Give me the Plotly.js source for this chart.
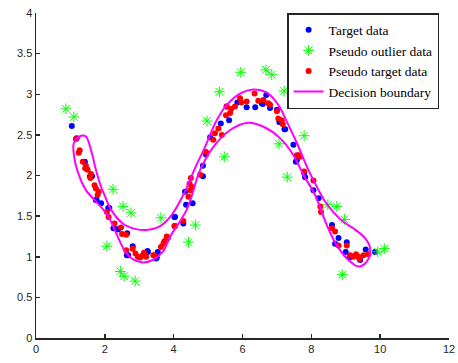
<!DOCTYPE html>
<html>
<head>
<meta charset="utf-8">
<script src="https://cdn.plot.ly/plotly-3.0.1.min.js"></script>
<style>
  html, body { margin: 0; padding: 0; background: #fff; }
  #chart { width: 458px; height: 363px; }
</style>
</head>
<body>
<div id="chart"></div>
<script>
// Target data (blue dots)
const targetX = [1.04, 1.18, 1.42, 1.57, 1.63, 1.74, 1.76, 1.89, 2.10, 2.13, 2.25, 2.37, 2.39, 2.65, 2.64, 2.68, 2.81,
  3.24, 3.25, 3.49, 3.51, 3.54, 3.83, 4.02, 4.04, 4.28, 4.36, 4.33, 4.55, 4.85, 4.85, 4.94, 5.06, 5.37, 5.54, 5.61,
  5.85, 6.12, 6.37, 6.56, 6.59, 6.69, 6.80, 7.00, 7.07, 7.09, 7.22, 7.24, 7.48, 7.55, 7.58, 7.79, 7.82, 8.06, 8.21,
  8.60, 8.79, 8.69, 9.03, 9.00, 9.11, 9.42, 9.58, 9.85];
const targetY = [2.61, 2.46, 2.17, 1.99, 1.99, 1.70, 1.70, 1.66, 1.60, 1.60, 1.35, 1.34, 1.34, 1.29, 1.02, 1.02, 1.13,
  1.07, 1.06, 0.98, 0.99, 1.06, 1.23, 1.49, 1.49, 1.41, 1.64, 1.80, 1.66, 1.99, 2.12, 2.26, 2.47, 2.64, 2.85, 2.68,
  2.90, 2.84, 2.84, 2.89, 2.88, 2.99, 2.83, 2.81, 2.66, 2.66, 2.57, 2.57, 2.38, 2.17, 2.19, 2.03, 1.98, 1.82, 1.72,
  1.39, 1.23, 1.16, 1.18, 1.06, 0.99, 0.96, 1.09, 1.06];

// Pseudo outlier data (green asterisks)
const outlierX = [0.87, 1.10, 2.24, 2.53, 2.76, 3.63, 4.63, 4.43, 2.06, 2.45, 2.56, 2.88, 5.33, 7.21, 4.97, 7.79,
  7.06, 5.47, 7.30, 8.48, 8.74, 8.96, 9.93, 10.12, 8.90, 5.95, 6.68, 6.85];
const outlierY = [2.82, 2.72, 1.83, 1.62, 1.54, 1.48, 1.39, 1.18, 1.13, 0.82, 0.76, 0.70, 3.03, 3.04, 2.67, 2.49,
  2.39, 2.23, 1.98, 1.64, 1.62, 1.46, 1.06, 1.10, 0.78, 3.27, 3.30, 3.24];

// Pseudo target data (red dots)
const pseudoX = [1.16, 1.24, 1.27, 1.36, 1.43, 1.50, 1.45, 1.58, 1.60, 1.70, 1.74, 1.79, 1.82, 2.06, 2.11, 2.28,
  2.47, 2.50, 2.62, 2.62, 2.81, 2.89, 2.96, 3.03, 3.10, 3.20, 3.14, 3.44, 3.41, 3.63, 3.70, 3.73, 3.78, 3.80,
  4.02, 4.04, 4.28, 4.43, 4.48, 4.53, 4.50, 4.46, 4.77, 4.94, 5.15, 5.20, 5.30, 5.40, 5.52, 5.64, 5.54, 5.67,
  5.78, 5.93, 5.97, 6.12, 6.35, 6.46, 6.61, 6.75, 6.80, 7.00, 7.04, 7.14, 7.17, 7.58, 7.63, 7.67, 7.79, 8.06,
  8.26, 8.28, 8.60, 8.69, 8.79, 9.03, 9.13, 9.22, 9.30, 9.37, 9.40, 9.52, 9.66];
const pseudoY = [2.45, 2.28, 2.31, 2.17, 2.09, 2.07, 2.12, 1.97, 2.02, 1.88, 1.84, 1.76, 1.80, 1.55, 1.49, 1.41,
  1.36, 1.28, 1.27, 1.08, 1.10, 1.04, 1.00, 0.99, 1.02, 1.00, 1.05, 1.02, 1.02, 1.12, 1.16, 1.19, 1.21, 1.25,
  1.38, 1.38, 1.44, 1.74, 1.82, 1.86, 1.97, 1.90, 2.01, 2.29, 2.44, 2.52, 2.58, 2.50, 2.74, 2.77, 2.85, 2.82,
  2.85, 2.95, 2.90, 2.91, 3.01, 2.92, 2.93, 2.89, 2.87, 2.79, 2.70, 2.68, 2.63, 2.25, 2.25, 2.23, 2.05, 1.94,
  1.62, 1.55, 1.35, 1.31, 1.14, 1.14, 1.02, 1.00, 1.03, 1.00, 0.97, 1.02, 1.03];

// Decision boundary (closed contour)
const boundaryX = [1.31, 1.45, 1.60, 1.74, 1.89, 1.99, 2.18, 2.52, 2.91, 3.20, 3.58, 3.90, 4.28, 4.62, 4.91, 5.25,
  5.59, 5.98, 6.32, 6.71, 7.04, 7.29, 7.58, 7.87, 8.21, 8.40, 8.64, 8.93, 9.22, 9.56, 9.71, 9.61, 9.37, 9.13,
  8.74, 8.45, 8.11, 7.78, 7.48, 7.09, 6.61, 6.17, 5.64, 5.15, 4.77, 4.38, 3.90, 3.68, 3.39, 3.10, 2.81, 2.57,
  2.33, 2.08, 1.79, 1.45, 1.21, 1.11, 1.10, 1.31];
const boundaryY = [2.49, 2.48, 2.31, 2.07, 1.86, 1.76, 1.58, 1.41, 1.34, 1.33, 1.37, 1.49, 1.76, 2.09, 2.35, 2.68,
  2.89, 3.02, 3.06, 3.02, 2.87, 2.66, 2.40, 2.11, 1.82, 1.68, 1.55, 1.43, 1.35, 1.23, 1.10, 0.94, 0.88, 0.94,
  1.14, 1.39, 1.76, 2.00, 2.25, 2.46, 2.60, 2.65, 2.56, 2.35, 2.07, 1.58, 1.25, 1.06, 0.96, 0.93, 0.97, 1.08,
  1.29, 1.51, 1.66, 1.82, 2.05, 2.23, 2.40, 2.49];

const traces = [
  {
    x: targetX, y: targetY, type: 'scatter', mode: 'markers', name: 'Target data',
    marker: { color: '#0000ff', size: 6 }
  },
  {
    x: outlierX, y: outlierY, type: 'scatter', mode: 'markers', name: 'Pseudo outlier data',
    marker: { color: '#00ff00', size: 9, symbol: 'asterisk-open', line: { color: '#00ff00', width: 1 } }
  },
  {
    x: pseudoX, y: pseudoY, type: 'scatter', mode: 'markers', name: 'Pseudo target data',
    marker: { color: '#ff0000', size: 6 }
  },
  {
    x: boundaryX, y: boundaryY, type: 'scatter', mode: 'lines', name: 'Decision boundary',
    line: { color: '#ff00ff', width: 2, shape: 'spline', smoothing: 1 }
  }
];

const axisCommon = {
  showgrid: false, zeroline: false, showline: true, linecolor: '#262626', linewidth: 1.5,
  ticks: 'inside', ticklen: 4, tickwidth: 1.5, tickcolor: '#262626',
  tickfont: { family: 'Liberation Sans, Arial, sans-serif', size: 11, color: '#262626' },
  mirror: false
};

const layout = {
  width: 458, height: 363,
  margin: { l: 36, r: 9, t: 13, b: 25 },
  paper_bgcolor: '#ffffff', plot_bgcolor: '#ffffff',
  showlegend: true,
  xaxis: Object.assign({}, axisCommon, { range: [0, 12], tickvals: [0, 2, 4, 6, 8, 10, 12] }),
  yaxis: Object.assign({}, axisCommon, { range: [0, 4], tickvals: [0, 0.5, 1, 1.5, 2, 2.5, 3, 3.5, 4] }),
  legend: {
    x: 0.608, y: 1, xanchor: 'left', yanchor: 'top',
    bgcolor: '#ffffff', bordercolor: '#262626', borderwidth: 1.5,
    font: { family: 'Liberation Serif, Times New Roman, serif', size: 13.5, color: '#000' },
    itemwidth: 30, tracegroupgap: 0
  }
};

Plotly.newPlot('chart', traces, layout, { displayModeBar: false, staticPlot: true });
</script>
</body>
</html>
